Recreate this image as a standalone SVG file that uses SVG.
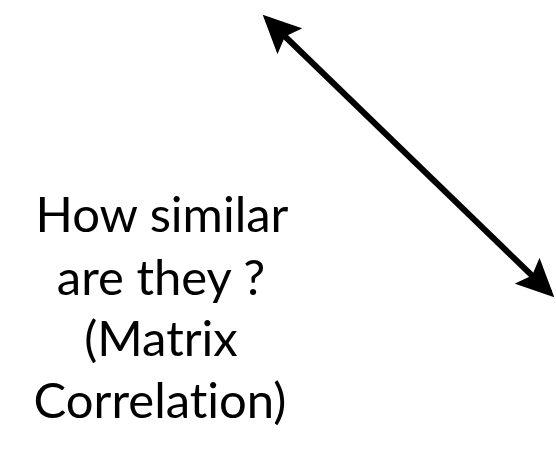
<svg xmlns="http://www.w3.org/2000/svg" width="556" height="466" viewBox="0 0 556 466">
<style>
.lbl{font-family:Lato,"Open Sans","Liberation Sans",sans-serif;font-size:49px;fill:#000;text-anchor:middle;font-variant-ligatures:none;font-feature-settings:"liga" 0}
.conn{stroke:#000;stroke-width:6;fill:none}
</style>
<defs>
<marker id="ah" viewBox="0 0 38 36" refX="32" refY="18" markerWidth="38" markerHeight="36" markerUnits="userSpaceOnUse" orient="auto-start-reverse">
<path d="M0,0 L38,18 L0,36 L7,18 Z" fill="#000"/>
</marker>
</defs>
<rect width="556" height="466" fill="#fff"/>
<g id="connectors">
<line class="conn" x1="267" y1="19" x2="550" y2="293" marker-start="url(#ah)" marker-end="url(#ah)"/>
</g>
<g id="label">
<text class="lbl" x="162" y="232">How similar</text>
<text class="lbl" x="161" y="295">are they ?</text>
<text class="lbl" x="161" y="356">(Matrix</text>
<text class="lbl" x="160" y="418">Correlation)</text>
</g>
</svg>
